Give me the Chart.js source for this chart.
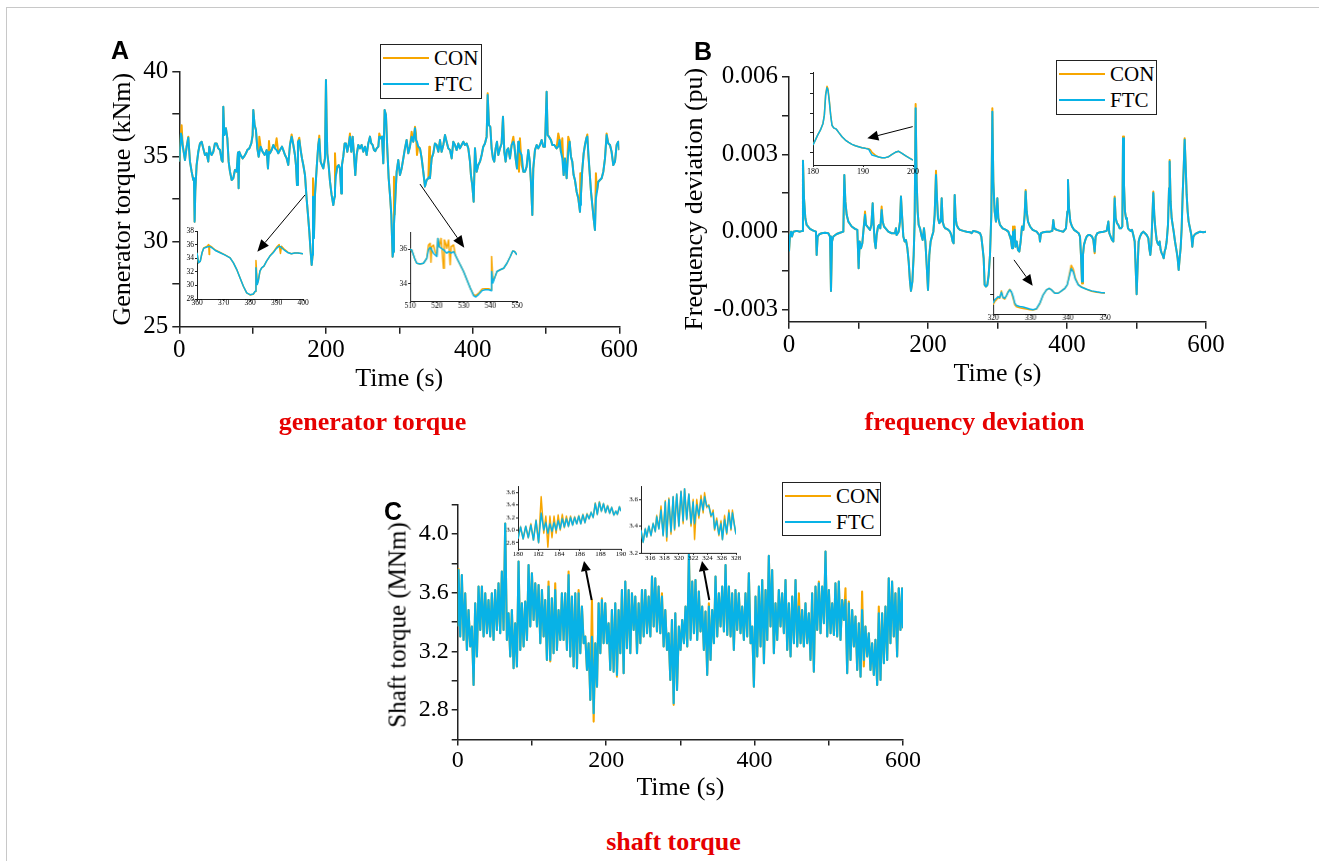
<!DOCTYPE html>
<html><head><meta charset="utf-8">
<script src="https://cdn.jsdelivr.net/npm/chart.js@4.4.1/dist/chart.umd.min.js"></script>
<style>
html,body{margin:0;padding:0;background:#fff;}
body{width:1319px;height:861px;position:relative;overflow:hidden;font-family:'Liberation Serif','Times New Roman',serif;}
#stage{position:absolute;left:0;top:0;width:1319px;height:861px;}
#stage canvas{position:absolute;}
.frame{position:absolute;left:6px;top:7px;width:1400px;height:1000px;border-left:1px solid #c8c8c8;border-top:1px solid #c8c8c8;}
.panel{position:absolute;font-family:'Liberation Sans',Arial,sans-serif;font-weight:bold;font-size:25px;line-height:28px;color:#000;}
.cap{position:absolute;font-weight:bold;font-size:26px;line-height:30px;color:#e60000;white-space:nowrap;transform:translateX(-50%);}
.ytitle{position:absolute;white-space:nowrap;line-height:1;color:#000;transform:translate(-50%,-50%) rotate(-90deg);}
.legend{position:absolute;border:1.5px solid #222;background:#fff;box-sizing:border-box;}
.legend .row{position:absolute;left:0;right:0;height:24px;}
.legend .sw{position:absolute;left:2px;width:46px;height:2px;top:11px;}
.legend .tx{position:absolute;left:53px;top:0;font-size:21px;line-height:24px;color:#000;white-space:nowrap;}
</style></head><body>
<div class="frame"></div>
<div id="stage"></div>
<div class="panel" style="left:111px;top:35.5px">A</div>
<div class="panel" style="left:694px;top:36.5px">B</div>
<div class="panel" style="left:384px;top:497px">C</div>
<div class="ytitle" style="left:397px;top:625px;font-size:25px">Shaft torque (MNm)</div>
<div class="cap" style="left:372.5px;top:407px">generator torque</div>
<div class="cap" style="left:974.5px;top:407px">frequency deviation</div>
<div class="cap" style="left:673.5px;top:827px">shaft torque</div>
<div id="legends"></div>
<script>
// ---------------- DATA ----------------
const seriesNames = ['CON', 'FTC'];

// Panel A: generator torque (kNm)
const tA = [0, 2.27, 3.2, 4.55, 7.73, 10.0, 12.27, 14.55, 16.82, 19.09,
20.0, 20.9, 21.8, 23.6, 25.9, 28.2, 30.5, 32.7, 35.0, 37.3,
39.5, 40.9, 42.7, 44.1, 46.4, 48.6, 50.9, 53.2, 55.5, 57.7,
59.1, 60.0, 61.4, 63.6, 65.5, 67.3, 69.1, 71.4, 73.6, 75.9,
78.2, 80.0, 80.9, 81.8, 83.6, 86.4, 88.2, 90.9, 92.7, 95.5,
98.2, 100.0, 100.9, 102.7, 104.5, 106.4, 108.2, 109.1, 110.9, 113.6,
116.4, 119.1, 120.9, 122.3, 123.6, 125.9, 128.2, 130.5, 132.7, 135.0,
137.3, 140.0, 141.8, 144.1, 146.4, 148.6, 150.9, 153.2, 155.5, 157.7,
159.1, 160.5, 161.8, 163.6, 165.5, 167.3, 169.1, 171.4, 173.6, 175.5,
177.3, 179.1, 180.5, 181.8, 182.3, 183.6, 185.0, 187.3, 189.5, 190.9,
192.7, 194.5, 196.4, 198.6, 200.0, 200.9, 201.8, 203.6, 205.5, 207.7,
210.0, 211.8, 212.3, 213.6, 215.5, 217.3, 219.1, 220.9, 221.8, 223.6,
225.5, 227.3, 229.1, 230.9, 232.7, 234.5, 236.4, 238.2, 240.0, 241.8,
244.1, 246.4, 248.6, 250.9, 253.2, 255.5, 257.7, 260.0, 261.8, 263.6,
265.5, 267.3, 269.1, 271.4, 272.7, 274.5, 276.4, 278.2, 280.0, 281.8,
283.6, 285.5, 287.3, 289.1, 290.9, 291.8, 292.7, 293.6, 295.0, 296.4,
298.6, 300.9, 303.2, 305.5, 307.7, 310.0, 312.3, 314.5, 316.8, 319.1,
321.4, 322.7, 324.1, 325.9, 328.2, 330.5, 332.7, 335.0, 337.3, 339.6,
340.9, 341.8, 344.1, 346.4, 348.6, 350.9, 353.2, 355.5, 357.7, 360.0,
362.3, 364.5, 366.8, 369.1, 371.4, 373.6, 375.9, 378.2, 380.5, 382.7,
385.0, 387.3, 389.5, 391.8, 394.1, 396.4, 397.7, 399.5, 401.4, 403.2,
405.5, 407.7, 410.0, 412.3, 414.5, 416.8, 419.1, 420.5, 422.3, 424.1,
425.9, 427.7, 429.5, 431.4, 433.2, 435.0, 437.3, 439.5, 441.4, 443.2,
445.0, 446.8, 448.6, 450.9, 453.2, 455.5, 456.8, 458.6, 460.5, 462.3,
463.2, 464.5, 466.8, 469.1, 471.4, 473.6, 475.9, 477.7, 479.5, 481.4,
482.7, 485.0, 487.3, 489.5, 491.8, 494.1, 496.4, 498.6, 500.9, 502.3,
504.1, 506.8, 508.6, 511.4, 514.5, 516.8, 518.6, 520.4, 522.3, 524.1,
525.9, 528.2, 530.4, 532.3, 534.1, 535.9, 537.7, 539.5, 541.8, 544.1,
546.4, 546.8, 547.7, 549.5, 551.4, 553.2, 555.0, 556.4, 557.7, 559.5,
561.4, 563.2, 565.0, 566.8, 568.1, 569.5, 571.4, 573.6, 575.9, 578.2,
580.5, 582.7, 585.0, 587.3, 589.5, 591.8, 594.1, 596.4, 598.6, 600.0];
const ftcA = [34.71, 36.37, 36.2, 35.69, 34.80, 35.59, 36.12, 34.71, 34.12, 33.63,
33.73, 31.18, 32.94, 34.51, 35.29, 35.78, 35.88, 35.49, 35.10, 35.20,
34.71, 35.59, 35.20, 35.10, 35.29, 35.78, 35.78, 35.49, 35.39, 34.80,
34.71, 37.94, 36.27, 36.67, 36.08, 34.71, 34.12, 33.63, 33.73, 34.22,
34.12, 35.25, 33.14, 35.29, 35.10, 34.90, 35.00, 35.20, 35.39, 35.49,
35.78, 36.27, 37.75, 36.86, 36.57, 35.49, 35.00, 35.20, 35.59, 35.29,
35.10, 35.39, 34.31, 35.29, 35.20, 35.39, 35.69, 35.49, 35.39, 35.20,
35.39, 35.59, 35.39, 35.10, 34.90, 34.51, 35.69, 36.18, 35.69, 35.10,
34.51, 33.33, 35.88, 35.98, 35.39, 34.90, 34.51, 33.92, 32.55, 31.57,
30.59, 29.41, 28.63, 29.22, 32.65, 30.20, 32.75, 34.31, 35.69, 36.04,
34.71, 34.51, 34.31, 34.90, 39.51, 37.06, 35.20, 34.51, 33.53, 32.75,
32.16, 32.65, 33.04, 33.92, 34.41, 34.51, 34.31, 32.84, 34.51, 35.00,
35.78, 35.78, 35.29, 35.69, 36.18, 35.29, 36.18, 35.10, 33.92, 35.10,
35.69, 35.49, 35.69, 35.29, 35.59, 35.10, 35.78, 36.18, 35.78, 35.69,
35.39, 35.33, 35.49, 35.59, 36.18, 36.08, 36.18, 34.61, 37.75, 37.45,
35.49, 33.73, 32.75, 31.57, 29.12, 29.41, 30.98, 31.60, 32.94, 34.12,
34.80, 33.92, 34.31, 34.90, 35.49, 35.98, 35.20, 35.59, 36.18, 35.88,
36.67, 35.98, 35.88, 35.59, 35.49, 34.90, 34.12, 33.24, 33.63, 33.73,
33.82, 33.73, 34.90, 35.20, 35.78, 35.69, 35.29, 35.98, 35.29, 35.69,
36.27, 35.88, 35.49, 35.39, 34.90, 35.88, 35.69, 35.39, 35.78, 35.49,
35.69, 35.88, 35.69, 35.78, 35.49, 34.71, 33.92, 33.33, 32.35, 35.49,
34.12, 34.51, 34.71, 35.10, 35.59, 35.78, 36.18, 38.63, 36.86, 36.76,
35.49, 34.90, 34.71, 35.49, 35.88, 35.10, 35.49, 35.78, 37.35, 35.29,
34.71, 35.39, 35.49, 34.90, 35.69, 35.88, 35.69, 34.90, 34.31, 35.88,
35.49, 35.29, 35.10, 34.12, 34.12, 34.41, 35.39, 34.80, 33.53, 31.57,
34.31, 35.39, 35.69, 35.49, 35.69, 35.98, 35.59, 35.59, 38.82, 36.27,
36.18, 35.98, 35.69, 35.69, 35.49, 35.59, 35.98, 35.29, 34.90, 33.92,
34.90, 33.73, 35.29, 35.88, 35.00, 34.71, 33.92, 33.63, 32.94, 32.55,
31.76, 32.16, 32.75, 34.22, 35.20, 35.69, 36.08, 36.18, 35.29, 34.12,
32.94, 32.16, 31.37, 30.69, 32.55, 32.94, 33.53, 33.63, 33.73, 34.12,
34.90, 36.27, 35.78, 35.69, 35.29, 34.51, 34.71, 35.69, 35.88, 35.39];
// CON differs from FTC only at these read-off points [time, value]
const conA_diff = [[3.2, 36.85], [12.27, 36.18], [109.1, 36.18], [122.3, 35.92], [132.7, 36.08],
[153.2, 36.31], [163.6, 36.12], [182.3, 33.73], [183.6, 30.4], [190.9, 36.24], [212.3, 35.20],
[232.7, 36.37], [272.7, 36.37], [292.7, 33.82], [316.8, 36.47], [321.4, 36.76], [322.7, 36.37],
[324.1, 35.10], [340.9, 35.59], [420.5, 38.73], [455.5, 36.18], [463.2, 34.12], [464.5, 36.08],
[466.8, 34.51], [516.8, 36.37], [522.3, 36.08], [530.4, 36.18], [546.8, 34.02], [556.4, 36.31],
[557.7, 35.10], [568.1, 34.02], [582.7, 36.37]];

// Inset A1 (360-400 s)
const tA1 = [360, 360.6, 361.25, 361.9, 362.5, 363.75, 364.4, 364.6, 364.75, 365.6, 366.9, 368.75, 370.6,
372.5, 373.75, 375, 376.25, 377.5, 378.75, 380, 381.25, 381.9, 382.25, 382.75, 383.1, 383.75, 384.4,
385.25, 386.25, 387.5, 388.75, 390, 391, 391.5, 391.9, 393.1, 394.4, 395.6, 396.9, 398.1, 400];
const ftcA1 = [34.80, 33.32, 33.57, 34.80, 35.44, 35.64, 35.70, 35.72, 35.73, 35.54, 35.14, 34.80, 34.45,
34.06, 33.32, 32.33, 31.10, 29.87, 28.89, 28.64, 28.74, 29.13, 32.58, 30.12, 30.61, 32.09, 32.58,
32.83, 33.57, 34.31, 34.80, 35.44, 35.78, 35.70, 35.54, 35.14, 34.80, 34.65, 34.75, 34.75, 34.65];
const conA1 = [34.80, 33.32, 33.57, 34.80, 35.50, 35.75, 36.00, 34.55, 35.85, 35.65, 35.20, 34.84, 34.48,
34.06, 33.32, 32.33, 31.10, 29.87, 28.89, 28.60, 28.70, 29.10, 33.67, 30.30, 30.61, 32.09, 32.58,
32.83, 33.57, 34.31, 34.90, 35.60, 36.00, 34.70, 35.75, 35.25, 34.85, 34.65, 34.75, 34.75, 34.65];

// Inset A2 (510-550 s)
const tA2 = [510, 510.6, 511.25, 511.9, 512.5, 513.75, 515, 516.25, 516.9, 517.5, 517.8, 518.1, 518.75,
519.4, 520, 520.4, 520.9, 521.6, 522.0, 522.5, 522.8, 523.1, 523.75, 524.4, 525.0, 525.4, 526.25,
526.9, 527.5, 528.75, 530, 531.25, 532.5, 533.75, 534.6, 535.6, 536.9, 538.1, 539.4, 540.25, 540.5,
541.0, 541.6, 542.5, 543.75, 545, 546.25, 547.5, 548.4, 549.1, 550];
const ftcA2 = [36.00, 35.96, 35.67, 35.38, 35.19, 35.15, 35.19, 35.48, 35.96, 36.10, 36.06, 35.96, 35.77,
35.67, 35.58, 36.63, 36.15, 36.06, 36.02, 35.96, 35.94, 35.87, 35.77, 35.87, 35.83, 35.77, 35.87,
35.67, 35.48, 35.10, 34.71, 34.23, 33.75, 33.31, 33.23, 33.37, 33.60, 33.65, 33.65, 33.60, 34.71,
34.04, 34.33, 34.71, 34.81, 34.90, 35.19, 35.58, 35.90, 35.87, 35.67];
const conA2 = [36.00, 35.96, 35.67, 35.38, 35.19, 35.15, 35.19, 35.48, 36.25, 36.35, 35.25, 36.15, 36.25,
35.87, 35.67, 36.63, 36.15, 36.63, 35.87, 34.90, 36.54, 36.44, 36.06, 36.54, 35.10, 36.15, 36.25,
35.67, 35.48, 35.10, 34.71, 34.23, 33.75, 33.37, 33.31, 33.44, 33.69, 33.71, 33.71, 33.64, 35.58,
34.13, 34.33, 34.71, 34.81, 34.90, 35.19, 35.58, 35.90, 35.87, 35.67];

// Panel B: frequency deviation, values in 10^-3 pu
const tB = [0.0, 1.44, 2.88, 4.32, 6.23, 11.0, 15.8, 19.2, 20.1, 21.6,
23.5, 25.4, 30.2, 35.0, 38.8, 39.8, 41.2, 43.6, 47.0, 51.8,
56.6, 59.0, 60.4, 61.9, 63.8, 68.6, 73.4, 78.2, 79.6, 81.1,
83.0, 85.4, 90.2, 95.0, 98.3, 100.2, 101.7, 103.6, 105.5, 107.4,
109.4, 110.8, 112.7, 116.5, 118.5, 120.4, 121.8, 123.3, 124.7, 126.1,
128.1, 129.5, 131.4, 133.3, 134.8, 136.7, 139.6, 142.9, 147.7, 152.5,
153.9, 154.9, 157.8, 159.7, 161.1, 162.6, 164.5, 166.4, 168.3, 170.3,
172.2, 174.1, 175.5, 177.5, 179.4, 180.8, 182.2, 183.7, 185.1, 186.6,
188.5, 190.9, 192.3, 194.2, 196.2, 198.1, 200.0, 201.9, 203.8, 205.7,
207.7, 209.6, 211.5, 212.9, 214.4, 216.3, 218.2, 219.7, 221.1, 223.0,
224.9, 226.9, 229.3, 231.6, 233.6, 235.5, 236.9, 238.4, 239.8, 241.2,
243.6, 246.0, 250.8, 255.6, 260.4, 262.8, 265.2, 270.0, 274.8, 276.7,
278.6, 280.1, 281.5, 283.4, 285.4, 287.3, 289.2, 291.1, 292.6, 294.0,
295.9, 297.8, 299.8, 301.2, 303.6, 307.4, 312.2, 315.6, 318.0, 319.4,
320.9, 322.3, 323.7, 324.7, 325.7, 327.6, 329.5, 331.4, 333.3, 335.2,
337.2, 339.1, 340.5, 342.0, 343.9, 346.8, 350.6, 356.3, 360.2, 361.1,
362.6, 365.9, 370.7, 375.5, 378.9, 380.3, 381.8, 385.1, 389.9, 394.7,
398.5, 400.5, 401.4, 402.9, 404.8, 407.2, 410.1, 413.9, 416.8, 418.7,
420.1, 421.6, 423.0, 424.4, 426.4, 428.3, 430.7, 433.1, 436.0, 437.9,
439.8, 441.2, 443.6, 447.5, 452.3, 457.1, 459.5, 460.9, 462.8, 464.7,
466.7, 468.6, 470.0, 471.9, 473.8, 475.8, 477.7, 479.6, 480.6, 482.0,
483.4, 484.9, 486.3, 487.8, 489.7, 491.6, 493.5, 495.4, 497.4, 498.8,
500.2, 501.7, 503.1, 505.0, 507.4, 509.8, 512.2, 514.6, 517.0, 518.4,
519.9, 521.3, 522.8, 524.2, 525.6, 527.1, 529.0, 530.4, 531.9, 533.3,
534.8, 536.2, 537.6, 539.1, 540.5, 541.9, 543.4, 545.3, 546.8, 547.7,
549.1, 550.6, 552.0, 553.5, 555.4, 557.8, 559.2, 560.7, 562.1, 563.5,
565.0, 566.4, 567.9, 569.3, 570.7, 572.2, 573.6, 575.0, 577.0, 578.9,
580.3, 581.8, 584.2, 586.6, 591.4, 596.1, 600.0];
const ftcB = [-0.76, -0.12, 0.01, -0.18, 0.01, 0.04, 0.01, 0.04, 2.75, 1.30,
0.53, 0.27, 0.12, 0.05, 0.01, -0.89, -0.18, -0.09, -0.05, -0.03,
-0.05, -0.18, -2.28, -0.37, -0.18, -0.08, -0.03, 0.01, 2.20, 1.17,
0.66, 0.40, 0.21, 0.12, 0.08, -1.40, -0.37, -0.63, -0.44, 0.14,
0.66, 0.27, 0.21, 0.08, 0.27, 1.11, 0.27, -0.37, -0.63, -0.12,
0.21, 0.27, 0.14, 0.85, 0.40, 0.21, 0.12, 0.01, -0.05, -0.05,
0.14, -0.12, 0.01, 0.40, 1.37, 0.66, -0.18, -0.37, -0.31, -0.63,
-1.15, -1.92, -2.28, -1.92, -0.89, 0.40, 4.78, 1.95, 0.79, 0.27,
0.14, -0.18, -0.31, 0.14, -0.37, -1.28, -2.24, -0.89, -0.37, -0.18,
0.01, 0.66, 2.20, 1.30, 0.53, 0.34, 0.40, 1.30, 0.40, 0.21,
0.14, 0.12, 0.08, 0.01, -0.12, -0.37, -0.44, 1.43, 0.53, 0.27,
0.14, 0.08, 0.04, 0.01, -0.01, -0.05, 0.04, 0.01, -0.05, -0.18,
-0.63, -1.02, -2.05, -2.11, -2.05, -1.66, -0.89, 0.66, 4.65, 1.95,
0.79, 0.40, 1.30, 0.53, 0.27, 0.14, 0.08, 0.01, -0.18, -0.31,
-0.63, 0.01, -0.37, 0.08, -0.57, -0.37, -0.70, -0.76, -0.37, 0.21,
0.08, 0.66, 1.56, 0.79, 0.40, 0.21, 0.08, 0.01, -0.12, -0.37,
-0.05, -0.01, 0.01, 0.01, 0.04, 0.46, 0.14, 0.08, 0.04, 0.01,
0.14, 0.79, 2.01, 0.92, 0.40, 0.21, 0.08, 0.01, -0.05, -0.18,
-0.89, -1.92, -0.89, -0.50, -0.31, -0.18, -0.12, -0.12, -0.18, -0.31,
-0.76, -0.18, -0.05, -0.01, 0.01, 0.04, 0.40, -0.05, -0.18, -0.31,
-0.37, 1.30, 0.53, 0.34, 0.27, 0.14, 0.14, 0.21, 3.62, 1.82,
0.79, 0.53, 0.46, 0.14, 0.08, 0.04, 0.08, -0.12, -0.37, -1.40,
-2.41, -1.28, -0.37, -0.18, -0.05, 0.01, -0.05, -0.12, -0.24, -0.63,
-0.89, -0.50, 0.53, 1.50, 0.66, 0.14, -0.31, -0.44, -0.50, -0.37,
-0.70, -0.82, -0.89, -1.02, -0.76, -0.63, -0.37, 0.27, 1.69, 2.72,
1.17, 0.53, 0.27, 0.01, -0.37, -0.76, -1.02, -1.47, -1.02, -0.63,
0.14, 1.43, 2.46, 3.56, 2.59, 1.43, 0.79, 0.40, 0.14, -0.12,
-0.57, -0.18, -0.09, -0.05, 0.01, -0.01, 0.01];
const conB_diff = [[109.4, 0.79], [133.3, 0.98], [182.2, 4.94], [211.5, 2.36], [292.6, 4.78],
[322.3, 0.21], [324.7, 0.21], [340.5, 1.62], [421.6, -1.99], [439.8, -0.82], [468.6, 1.37],
[480.6, 3.69], [524.2, 1.56], [547.7, 2.78], [569.3, 3.62]];

// Inset B1 (180-200 s), unlabeled y axis, 10^-3 pu
const tB1 = [180, 180.47, 180.93, 181.47, 182, 182.27, 182.53, 182.8, 183, 183.27, 183.53, 183.8, 184.13,
184.67, 185.13, 185.8, 186.47, 187.13, 187.8, 188.47, 189.13, 189.8, 190.47, 191.13, 191.47, 191.8,
192.47, 193.13, 193.8, 194.47, 195.13, 195.8, 196.47, 197.13, 197.8, 198.47, 199.13, 200];
const ftcB1 = [1.39, 1.64, 1.89, 2.14, 2.48, 2.90, 3.91, 4.29, 4.16, 3.57, 2.90, 2.39, 2.26,
2.19, 2.03, 1.81, 1.64, 1.52, 1.42, 1.35, 1.30, 1.25, 1.22, 1.18, 1.02, 0.88,
0.83, 0.78, 0.75, 0.75, 0.80, 0.92, 1.02, 1.07, 0.97, 0.85, 0.75, 0.63];
const conB1 = [1.39, 1.64, 1.89, 2.14, 2.48, 2.92, 3.95, 4.36, 4.23, 3.62, 2.93, 2.39, 2.26,
2.19, 2.03, 1.81, 1.64, 1.52, 1.42, 1.35, 1.30, 1.25, 1.22, 1.20, 1.15, 1.02,
0.88, 0.78, 0.75, 0.75, 0.80, 0.92, 1.02, 1.07, 0.97, 0.85, 0.75, 0.63];

// Inset B2 (320-350 s), unlabeled y axis
const tB2 = [320, 320.45, 320.9, 321.34, 321.79, 322.24, 322.69, 323.13, 323.58, 324.03, 324.48, 324.92,
325.37, 325.82, 326.27, 327.16, 328.06, 328.95, 329.85, 330.74, 331.64, 332.53, 333.43, 334.32,
335.04, 335.67, 336.56, 337.46, 338.35, 339.25, 339.87, 340.41, 340.95, 341.49, 342.02, 342.83,
343.72, 345.07, 346.41, 347.75, 349.10, 350];
const ftcB2 = [0.55, 0.72, 0.80, 0.88, 0.83, 1.10, 0.83, 0.80, 0.93, 1.10, 1.22, 1.13,
0.88, 0.55, 0.43, 0.38, 0.35, 0.30, 0.25, 0.22, 0.27, 0.55, 0.97, 1.22,
1.30, 1.22, 1.05, 1.05, 1.17, 1.30, 1.47, 1.88, 2.30, 2.13, 1.77, 1.47,
1.35, 1.25, 1.17, 1.12, 1.08, 1.07];
const conB2 = [0.47, 0.63, 0.72, 0.83, 0.80, 1.17, 0.80, 0.75, 0.93, 1.13, 1.25, 1.10,
0.80, 0.47, 0.37, 0.32, 0.28, 0.25, 0.22, 0.20, 0.25, 0.53, 0.97, 1.22,
1.30, 1.22, 1.05, 1.05, 1.17, 1.30, 1.47, 1.97, 2.47, 2.27, 1.83, 1.50,
1.37, 1.25, 1.15, 1.10, 1.07, 1.05];

// Panel C: shaft torque (MNm)
const tC = [0,
1.1, 3.4, 5.6, 7.9, 10.1, 12.4, 14.6, 16.9, 19.1, 21.4,
23.6, 25.9, 28.1, 30.4, 32.6, 34.9, 37.1, 39.4, 41.5, 43.8,
46.0, 48.3, 50.5, 52.8, 55.0, 57.3, 59.5, 61.8, 64.0, 66.3,
68.5, 70.8, 73.0, 75.3, 77.5, 79.8, 82.0, 84.3, 86.5, 88.8,
91.0, 93.3, 95.5, 97.8, 100.0, 102.3, 104.5, 106.8, 109.0, 111.3,
113.5, 115.8, 117.9, 120.2, 122.4, 124.7, 126.9, 129.2, 131.4, 133.7,
135.9, 138.2, 140.4, 142.7, 144.9, 147.2, 149.4, 151.7, 153.9, 156.2,
158.4, 160.7, 162.9, 165.2, 167.4, 169.7, 171.9, 174.2, 176.4, 178.7,
180.9, 183.2, 185.4, 187.7, 189.9, 192.2, 194.3, 196.6, 198.8, 201.1,
203.3, 205.6, 207.8, 210.1, 212.3, 214.6, 216.8, 219.1, 221.3, 223.6,
225.8, 228.1, 230.3, 232.6, 234.8, 237.1, 239.3, 241.6, 243.8, 246.1,
248.3, 250.6, 252.8, 255.1, 257.3, 259.6, 261.8, 264.1, 266.2, 268.5,
270.7, 273.0, 275.2, 277.5, 279.7, 282.0, 284.2, 286.5, 288.7, 291.0,
293.2, 295.5, 298.0, 300.3, 302.5, 304.8, 307.0, 309.3, 311.5, 313.8,
316.0, 318.3, 320.4, 322.7, 324.9, 327.2, 329.4, 331.7, 333.9, 336.2,
338.4, 340.7, 342.9, 345.2, 347.4, 349.7, 351.9, 354.2, 356.4, 358.7,
360.9, 363.2, 365.4, 367.7, 369.8, 372.1, 374.3, 376.6, 378.8, 381.1,
383.3, 385.6, 387.8, 390.1, 392.3, 394.6, 396.8, 399.1, 401.3, 403.6,
405.8, 408.1, 410.3, 412.6, 414.8, 417.1, 419.2, 421.5, 423.7, 426.0,
428.2, 430.5, 432.7, 435.0, 437.2, 439.5, 441.7, 444.0, 446.2, 448.5,
450.7, 453.0, 455.2, 457.5, 459.7, 462.0, 464.1, 466.4, 468.6, 470.9,
473.1, 475.4, 477.6, 479.9, 482.1, 484.4, 486.6, 488.9, 491.1, 493.4,
495.6, 497.9, 500.1, 502.4, 504.6, 506.9, 509.0, 511.3, 513.5, 515.8,
518.0, 520.3, 522.5, 524.8, 527.0, 529.3, 531.5, 533.8, 536.0, 538.3,
540.5, 542.8, 544.9, 547.2, 549.4, 551.7, 553.9, 556.2, 558.4, 560.7,
562.9, 565.2, 567.4, 569.7, 571.9, 574.2, 576.4, 578.7, 580.8, 583.1,
585.3, 587.6, 589.8, 592.1, 594.3, 596.6, 598.8, 600.0];
const ftcC = [3.37,
3.754, 3.301, 3.720, 3.278, 3.595, 3.210, 3.482, 3.233, 3.369, 2.972,
3.527, 3.165, 3.641, 3.346, 3.641, 3.301, 3.595, 3.323, 3.550, 3.301,
3.595, 3.278, 3.618, 3.346, 3.664, 3.323, 3.743, 3.346, 4.07, 3.278,
3.459, 3.165, 3.482, 3.085, 3.391, 3.097, 3.811, 3.210, 3.527, 3.233,
3.539, 3.278, 3.788, 3.369, 3.732, 3.414, 3.664, 3.369, 3.652, 3.255,
3.618, 3.301, 3.550, 3.142, 3.641, 3.142, 3.561, 3.187, 3.618, 3.210,
3.482, 3.278, 3.595, 3.278, 3.595, 3.210, 3.720, 3.165, 3.573, 3.097,
3.595, 3.085, 3.595, 3.187, 3.505, 3.255, 3.301, 3.074, 3.255, 2.870,
3.300, 2.779, 3.255, 2.960, 3.527, 3.187, 3.550, 3.255, 3.527, 3.255,
3.391, 3.074, 3.482, 3.062, 3.527, 3.040, 3.482, 3.187, 3.618, 3.051,
3.675, 3.221, 3.618, 3.187, 3.595, 3.346, 3.573, 3.187, 3.527, 3.255,
3.618, 3.301, 3.618, 3.323, 3.573, 3.301, 3.709, 3.369, 3.698, 3.335,
3.641, 3.323, 3.573, 3.233, 3.482, 3.210, 3.323, 3.006, 3.414, 2.847,
3.459, 2.938, 3.369, 3.210, 3.414, 3.255, 3.505, 3.233, 3.86, 3.278,
3.675, 3.323, 3.686, 3.278, 3.607, 3.335, 3.505, 3.210, 3.471, 3.040,
3.505, 3.142, 3.482, 3.255, 3.709, 3.301, 3.595, 3.369, 3.641, 3.335,
3.788, 3.312, 3.641, 3.301, 3.595, 3.210, 3.618, 3.346, 3.595, 3.323,
3.505, 3.278, 3.595, 3.301, 3.732, 3.255, 3.369, 2.960, 3.573, 3.165,
3.641, 3.233, 3.686, 3.119, 3.618, 3.278, 3.85, 3.369, 3.754, 3.187,
3.527, 3.278, 3.618, 3.369, 3.595, 3.323, 3.686, 3.210, 3.527, 3.165,
3.573, 3.255, 3.686, 3.233, 3.505, 3.255, 3.482, 3.233, 3.527, 3.255,
3.459, 3.142, 3.595, 3.062, 3.641, 3.346, 3.664, 3.323, 3.641, 3.391,
3.88, 3.301, 3.618, 3.323, 3.527, 3.312, 3.664, 3.301, 3.675, 3.278,
3.550, 3.414, 3.550, 3.051, 3.527, 3.142, 3.482, 3.233, 3.437, 3.074,
3.391, 3.028, 3.482, 3.142, 3.369, 3.165, 3.323, 3.074, 3.255, 3.040,
3.278, 2.972, 3.459, 3.006, 3.459, 3.119, 3.505, 3.142, 3.698, 3.255,
3.675, 3.301, 3.595, 3.165, 3.629, 3.346, 3.629, 3.357];
const conC_diff = [[1.1, 3.76], [122.4, 3.675], [124.7, 3.131], [131.4, 3.664], [149.4, 3.743],
[162.9, 3.618], [180.9, 3.55], [183.2, 2.722], [194.3, 3.561], [214.6, 3.028], [275.2, 3.595],
[291.0, 2.836], [313.8, 3.289], [338.4, 3.527], [459.7, 3.595], [486.6, 3.675], [522.5, 3.629],
[527.0, 3.539], [544.9, 3.607], [547.2, 3.097], [567.4, 3.505]];

// Inset C1 (180-190 s)
const tC1 = [180.0, 180.25, 180.5, 180.75, 181.0, 181.25, 181.5, 181.75, 182.0, 182.25, 182.5, 182.7,
182.9, 183.1, 183.3, 183.5, 183.7, 183.9, 184.1, 184.3, 184.5, 184.7, 184.9, 185.1, 185.3, 185.5,
185.7, 185.9, 186.1, 186.3, 186.5, 186.7, 186.9, 187.1, 187.3, 187.5, 187.7, 187.9, 188.1, 188.3,
188.5, 188.7, 188.9, 189.1, 189.3, 189.5, 189.65, 189.85, 190.0];
const ftcC1 = [2.86, 3.05, 2.86, 3.06, 2.88, 3.08, 2.84, 3.15, 2.80, 3.27, 3.00, 3.12,
2.95, 3.10, 2.98, 3.12, 3.00, 3.15, 3.02, 3.18, 3.05, 3.18, 3.06, 3.20, 3.08, 3.20,
3.10, 3.22, 3.10, 3.24, 3.12, 3.25, 3.18, 3.28, 3.20, 3.42, 3.25, 3.44, 3.30, 3.42,
3.28, 3.38, 3.27, 3.36, 3.24, 3.30, 3.25, 3.37, 3.30];
const conC1 = [2.86, 3.05, 2.86, 3.06, 2.88, 3.10, 2.84, 3.16, 2.80, 3.53, 2.95, 3.22,
2.73, 3.22, 2.88, 3.22, 2.95, 3.24, 3.00, 3.25, 3.04, 3.22, 3.06, 3.22, 3.08, 3.21,
3.10, 3.23, 3.10, 3.25, 3.12, 3.26, 3.18, 3.28, 3.20, 3.43, 3.25, 3.45, 3.30, 3.42,
3.28, 3.39, 3.27, 3.36, 3.24, 3.30, 3.25, 3.37, 3.30];

// Inset C2 (315-328 s)
const tC2 = [314.7, 315.0, 315.3, 315.5, 315.8, 316.1, 316.4, 316.7, 316.9, 317.2, 317.5, 317.8,
318.1, 318.3, 318.6, 318.9, 319.2, 319.4, 319.7, 320.0, 320.3, 320.6, 320.8, 321.1, 321.4, 321.7,
322.0, 322.2, 322.5, 322.8, 323.1, 323.4, 323.6, 323.9, 324.2, 324.5, 324.8, 325.0, 325.3, 325.6,
325.9, 326.1, 326.4, 326.7, 327.0, 327.3, 327.5, 327.8, 328.0];
const ftcC2 = [3.37, 3.28, 3.38, 3.32, 3.40, 3.33, 3.42, 3.36, 3.47, 3.38, 3.52, 3.33,
3.58, 3.32, 3.60, 3.36, 3.62, 3.38, 3.64, 3.40, 3.66, 3.44, 3.68, 3.45, 3.64, 3.42,
3.58, 3.42, 3.56, 3.48, 3.60, 3.52, 3.62, 3.55, 3.55, 3.48, 3.50, 3.38, 3.44, 3.34,
3.42, 3.30, 3.45, 3.35, 3.50, 3.38, 3.50, 3.40, 3.34];
const conC2 = [3.37, 3.28, 3.38, 3.32, 3.40, 3.33, 3.42, 3.36, 3.48, 3.38, 3.55, 3.33,
3.59, 3.29, 3.61, 3.34, 3.62, 3.37, 3.64, 3.40, 3.66, 3.42, 3.68, 3.45, 3.64, 3.40,
3.60, 3.30, 3.60, 3.46, 3.63, 3.50, 3.65, 3.54, 3.56, 3.47, 3.52, 3.37, 3.46, 3.33,
3.44, 3.30, 3.48, 3.34, 3.52, 3.37, 3.52, 3.40, 3.34];

// Arrows (data units): [fromT, fromV, toT, toV]
const arrowsA = [[171.4, 32.75, 106.4, 29.41], [328.2, 33.39, 388.6, 29.65]];
const arrowsB = [[178.0, 4.07, 112.7, 3.62], [323.7, -1.08, 350.6, -2.08]]; // 10^-3 pu
const arrowsC = [[180.5, 3.55, 170.2, 3.815], [339.0, 3.55, 329.2, 3.815]];

// Tick values
const ticksA_x = [0, 100, 200, 300, 400, 500, 600], labelsA_x = [0, 200, 400, 600];
const ticksA_y = [25, 27.5, 30, 32.5, 35, 37.5, 40], labelsA_y = [25, 30, 35, 40];
const ticksB_y = [-0.003, -0.0015, 0, 0.0015, 0.003, 0.0045, 0.006], labelsB_y = [-0.003, 0, 0.003, 0.006];
const ticksC_y = [2.6, 2.8, 3.0, 3.2, 3.4, 3.6, 3.8, 4.0, 4.2], labelsC_y = [2.8, 3.2, 3.6, 4.0];

// ---------------- RENDERING ----------------
const FONT = "'Liberation Serif','Times New Roman',serif";
const AXIS = '#222';
const COLORS = {CON: '#F7A600', FTC: '#08B2E6'};
Chart.defaults.font.family = FONT;

function withDiff(t, v, diff) {
  const r = v.slice();
  diff.forEach(d => { const i = t.indexOf(d[0]); if (i >= 0) r[i] = d[1]; });
  return r;
}
function pts(t, v, k) {
  const n = Math.min(t.length, v.length), out = [];
  for (let i = 0; i < n; i++) out.push({x: t[i], y: v[i] * (k || 1)});
  return out;
}

const arrowPlugin = {
  id: 'arrows',
  afterDatasetsDraw(chart, args, o) {
    if (!o || !o.list || !o.list.length) return;
    const ctx = chart.ctx, xs = chart.scales.x, ys = chart.scales.y, k = o.k || 1;
    ctx.save();
    o.list.forEach(a => {
      const x1 = xs.getPixelForValue(a[0]), y1 = ys.getPixelForValue(a[1] * k);
      const x2 = xs.getPixelForValue(a[2]), y2 = ys.getPixelForValue(a[3] * k);
      const ang = Math.atan2(y2 - y1, x2 - x1);
      const bx = x2 - o.head * Math.cos(ang), by = y2 - o.head * Math.sin(ang);
      ctx.strokeStyle = '#000'; ctx.lineWidth = o.width;
      ctx.beginPath(); ctx.moveTo(x1, y1); ctx.lineTo(bx, by); ctx.stroke();
      ctx.fillStyle = '#000'; ctx.beginPath(); ctx.moveTo(x2, y2);
      ctx.lineTo(bx + o.headW * Math.sin(ang), by - o.headW * Math.cos(ang));
      ctx.lineTo(bx - o.headW * Math.sin(ang), by + o.headW * Math.cos(ang));
      ctx.closePath(); ctx.fill();
    });
    ctx.restore();
  }
};
Chart.register(arrowPlugin);

function makeChart(s) {
  const c = document.createElement('canvas');
  c.width = s.box.w; c.height = s.box.h;
  c.style.left = s.box.x + 'px'; c.style.top = s.box.y + 'px';
  c.style.width = s.box.w + 'px'; c.style.height = s.box.h + 'px';
  document.getElementById('stage').appendChild(c);
  const yW = s.area.x - s.box.x;
  const xH = s.box.y + s.box.h - (s.area.y + s.area.h);
  const mk = (a, horiz) => ({
    type: 'linear', position: horiz ? 'bottom' : 'left', min: a.min, max: a.max, bounds: 'data',
    afterBuildTicks: sc => { sc.ticks = a.ticks.map(v => ({value: v})); },
    afterFit: sc => {
      if (horiz) sc.height = xH; else sc.width = yW;
      sc.paddingLeft = 0; sc.paddingRight = 0; sc.paddingTop = 0; sc.paddingBottom = 0;
    },
    ticks: {autoSkip: false, maxRotation: 0, minRotation: 0, padding: a.pad, color: '#000',
      font: {family: FONT, size: a.font, lineHeight: a.lh || 1.2},
      callback: v => (a.labels.indexOf(v) >= 0 ? a.fmt(v) : '')},
    grid: {display: true, drawOnChartArea: false, drawTicks: true, tickLength: a.tick,
      tickWidth: a.lw, color: AXIS, lineWidth: a.lw},
    border: {display: true, color: AXIS, width: a.lw},
    title: a.title ? {display: true, text: a.title, color: '#000', font: {family: FONT, size: a.titleSize || 26},
      padding: horiz ? {top: 0, bottom: a.titlePad} : {top: a.titlePad, bottom: 0}} : {display: false}
  });
  return new Chart(c, {
    type: 'line',
    data: {datasets: s.series.map((d, i) => ({
      label: d.name, data: d.data, borderColor: COLORS[d.name], backgroundColor: COLORS[d.name],
      borderWidth: s.lineWidth, pointRadius: 0, fill: false, tension: 0, order: d.name === 'FTC' ? 0 : 1,
      borderJoinStyle: 'round'
    }))},
    options: {
      responsive: false, animation: false, devicePixelRatio: 1, events: [],
      layout: {padding: {left: 0, bottom: 0, top: s.area.y - s.box.y,
        right: s.box.x + s.box.w - (s.area.x + s.area.w)}},
      plugins: {legend: {display: false}, tooltip: {enabled: false}, arrows: s.arrows || {list: []}},
      scales: {x: mk(s.x, true), y: mk(s.y, false)}
    }
  });
}

const fmtInt = v => String(v);
const fmt1 = v => v.toFixed(1);
const fmt3 = v => v.toFixed(3);
const mainX = (labels, ticks, font, pad, tick, titlePad) => ({min: 0, max: 600, ticks: ticks, labels: labels,
  fmt: fmtInt, font: font, pad: pad, tick: tick, lw: 1.5, title: 'Time (s)', titlePad: titlePad});

// Panel A main
makeChart({
  box: {x: 90, y: 40, w: 565, h: 372}, area: {x: 179.3, y: 71.7, w: 440, h: 255},
  x: mainX(labelsA_x, ticksA_x, 25, 1.3, 7, 17.5),
  y: {min: 25, max: 40, ticks: ticksA_y, labels: labelsA_y, fmt: fmtInt, font: 25, pad: 4, tick: 7, lw: 1.5,
    title: 'Generator torque (kNm)', titlePad: 17.9},
  lineWidth: 2,
  series: [{name: 'FTC', data: pts(tA, ftcA)}, {name: 'CON', data: pts(tA, withDiff(tA, ftcA, conA_diff))}],
  arrows: {list: arrowsA, width: 1, head: 12, headW: 5}
});
// Inset A1
makeChart({
  box: {x: 182.7, y: 226.7, w: 130.6, h: 85.6}, area: {x: 196.7, y: 230.7, w: 106.6, h: 68.6},
  x: {min: 360, max: 400, ticks: [360, 370, 380, 390, 400], labels: [360, 370, 380, 390, 400], fmt: fmtInt,
    font: 7.5, lh: 1, pad: -1.5, tick: 2, lw: 1},
  y: {min: 28, max: 38, ticks: [28, 30, 32, 34, 36, 38], labels: [28, 30, 32, 34, 36, 38], fmt: fmtInt,
    font: 7.5, lh: 1, pad: 1, tick: 2, lw: 1},
  lineWidth: 1.5,
  series: [{name: 'FTC', data: pts(tA1, ftcA1)}, {name: 'CON', data: pts(tA1, conA1)}]
});
// Inset A2
makeChart({
  box: {x: 396, y: 227.7, w: 130.7, h: 85.3}, area: {x: 410, y: 231.7, w: 106.7, h: 69.3},
  x: {min: 510, max: 550, ticks: [510, 520, 530, 540, 550], labels: [510, 520, 530, 540, 550], fmt: fmtInt,
    font: 7.5, lh: 1, pad: -1, tick: 2, lw: 1},
  y: {min: 33, max: 37, ticks: [34, 36], labels: [34, 36], fmt: fmtInt, font: 7.5, lh: 1, pad: 1, tick: 2, lw: 1},
  lineWidth: 1.5,
  series: [{name: 'FTC', data: pts(tA2, ftcA2)}, {name: 'CON', data: pts(tA2, conA2)}]
});

// Panel B main
makeChart({
  box: {x: 680, y: 40, w: 560, h: 375}, area: {x: 789, y: 76.7, w: 417, h: 245},
  x: mainX(labelsA_x, ticksA_x, 25, 1.3, 7, 25.5),
  y: {min: -0.00347, max: 0.006, ticks: ticksB_y, labels: labelsB_y, fmt: fmt3, font: 25, pad: 4, tick: 7, lw: 1.5,
    title: 'Frequency deviation (pu)', titlePad: 0},
  lineWidth: 2,
  series: [{name: 'FTC', data: pts(tB, ftcB, 0.001)}, {name: 'CON', data: pts(tB, withDiff(tB, ftcB, conB_diff), 0.001)}],
  arrows: {list: arrowsB, k: 0.001, width: 1, head: 11, headW: 5}
});
// Inset B1
makeChart({
  box: {x: 798.7, y: 67.7, w: 124, h: 109.3}, area: {x: 812.7, y: 71.7, w: 100, h: 93.3},
  x: {min: 180, max: 200, ticks: [180, 190, 200], labels: [180, 190, 200], fmt: fmtInt, font: 8, lh: 1, pad: 0.7, tick: 2, lw: 1},
  y: {min: 0.378, max: 5.084, ticks: [1, 2, 3, 4, 5], labels: [], fmt: fmtInt, font: 8, lh: 1, pad: 1, tick: 3, lw: 1},
  lineWidth: 1.5,
  series: [{name: 'FTC', data: pts(tB1, ftcB1)}, {name: 'CON', data: pts(tB1, conB1)}]
});
// Inset B2
makeChart({
  box: {x: 979.3, y: 252.7, w: 135.7, h: 73.6}, area: {x: 993.3, y: 256.7, w: 111.7, h: 57.6},
  x: {min: 320, max: 350, ticks: [320, 330, 340, 350], labels: [320, 330, 340, 350], fmt: fmtInt, font: 7.5, lh: 1, pad: -1.7, tick: 2, lw: 1},
  y: {min: 0, max: 2.883, ticks: [1], labels: [], fmt: fmtInt, font: 7.5, lh: 1, pad: 1, tick: 3, lw: 1},
  lineWidth: 1.5,
  series: [{name: 'FTC', data: pts(tB2, ftcB2)}, {name: 'CON', data: pts(tB2, conB2)}]
});

// Panel C main (y-axis title drawn as HTML text above)
makeChart({
  box: {x: 370, y: 470, w: 570, h: 350}, area: {x: 457.7, y: 504.5, w: 445.3, h: 235},
  x: mainX(labelsA_x, ticksA_x, 24, 1.1, 6, 16.2),
  y: {min: 2.6, max: 4.2, ticks: ticksC_y, labels: labelsC_y, fmt: fmt1, font: 24, pad: 3, tick: 6, lw: 1.5},
  lineWidth: 2.1,
  series: [{name: 'FTC', data: pts(tC, ftcC)}, {name: 'CON', data: pts(tC, withDiff(tC, ftcC, conC_diff))}],
  arrows: {list: arrowsC, width: 2, head: 10, headW: 5}
});
// Inset C1
makeChart({
  box: {x: 503.7, y: 482.3, w: 127.3, h: 78.4}, area: {x: 517.7, y: 486.3, w: 103.3, h: 62.4},
  x: {min: 180, max: 190, ticks: [180, 182, 184, 186, 188, 190], labels: [180, 182, 184, 186, 188, 190], fmt: fmtInt,
    font: 7, lh: 1, pad: -0.5, tick: 2, lw: 1},
  y: {min: 2.7, max: 3.7, ticks: [2.8, 3.0, 3.2, 3.4, 3.6], labels: [2.8, 3.0, 3.2, 3.4, 3.6], fmt: fmt1,
    font: 7, lh: 1, pad: 1, tick: 2, lw: 1},
  lineWidth: 1.5,
  series: [{name: 'FTC', data: pts(tC1, ftcC1)}, {name: 'CON', data: pts(tC1, conC1)}]
});
// Inset C2
makeChart({
  box: {x: 626.7, y: 482.3, w: 119.3, h: 82.4}, area: {x: 640.7, y: 486.3, w: 95.3, h: 66.4},
  x: {min: 314.7, max: 328, ticks: [316, 318, 320, 322, 324, 326, 328], labels: [316, 318, 320, 322, 324, 326, 328],
    fmt: fmtInt, font: 7, lh: 1, pad: -0.5, tick: 2, lw: 1},
  y: {min: 3.2, max: 3.7, ticks: [3.2, 3.4, 3.6], labels: [3.2, 3.4, 3.6], fmt: fmt1, font: 7, lh: 1, pad: 1, tick: 2, lw: 1},
  lineWidth: 1.5,
  series: [{name: 'FTC', data: pts(tC2, ftcC2)}, {name: 'CON', data: pts(tC2, conC2)}]
});

// Legends (HTML, real text)
const legendBoxes = [
  {left: 380, top: 44, w: 102, h: 55},
  {left: 1056, top: 60, w: 101, h: 55},
  {left: 782, top: 482, w: 99, h: 54}
];
const lg = document.getElementById('legends');
legendBoxes.forEach(b => {
  const box = document.createElement('div');
  box.className = 'legend';
  box.style.left = b.left + 'px'; box.style.top = b.top + 'px';
  box.style.width = b.w + 'px'; box.style.height = b.h + 'px';
  seriesNames.forEach((n, i) => {
    const row = document.createElement('div');
    row.className = 'row'; row.style.top = (i === 0 ? 1.2 : 26.8) + 'px';
    const sw = document.createElement('div'); sw.className = 'sw'; sw.style.background = COLORS[n];
    const tx = document.createElement('div'); tx.className = 'tx'; tx.textContent = n;
    row.appendChild(sw); row.appendChild(tx); box.appendChild(row);
  });
  lg.appendChild(box);
});
</script>
</body></html>
